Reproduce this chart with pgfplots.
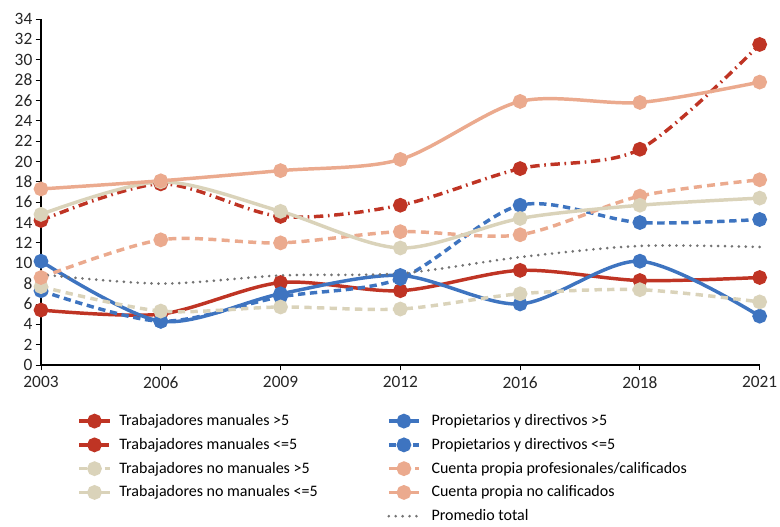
\documentclass[border=0pt]{standalone}
\usepackage{pgfplots}
\pgfplotsset{compat=1.18}
\usepackage{fontspec}
\setmainfont{Carlito}
\definecolor{cred}{RGB}{191,52,36}
\definecolor{cblue}{RGB}{62,116,192}
\definecolor{cbeige}{RGB}{218,211,186}
\definecolor{csalmon}{RGB}{235,170,142}
\definecolor{cgray}{RGB}{115,115,115}
\begin{document}
\begin{tikzpicture}
\useasboundingbox (-30.75pt,-120.75pt) rectangle (554.25pt,273.75pt);
\begin{axis}[
  scale only axis, width=539pt, height=259.5pt,
  xmin=0, xmax=6, ymin=0, ymax=34,
  xtick={0,...,6}, xticklabels={2003,2006,2009,2012,2016,2018,2021},
  ytick={0,2,...,34},
  axis x line*=bottom, axis y line*=left,
  tick align=outside, major tick length=4pt,
  tick style={black, line width=0.6pt},
  axis line style={black, line width=0.8pt},
  /pgf/number format/assume math mode=true,
  ticklabel style={font=\fontsize{13}{15}\selectfont, text=black!85},
  xticklabel style={yshift=-1pt},
  yticklabel style={xshift=1pt},
  clip=false,
  every axis plot/.append style={smooth, line width=2.6pt, mark=*, mark size=4.2pt},
  legend columns=2,
  legend cell align=left,
  legend style={at={(0.045,-0.127)}, anchor=north west, draw=none, fill=none,
     font=\fontsize{12}{14}\selectfont, row sep=4.0pt,
     /tikz/column 2/.style={column sep=50pt},
     /tikz/column 1/.style={column sep=4pt},
     /tikz/column 3/.style={column sep=6pt}},
  legend image code/.code={\draw[mark repeat=2,mark phase=2] plot coordinates {(0cm,0cm) (0.4cm,0cm) (0.8cm,0cm)};},
]
% Trabajadores manuales >5
\addplot[color=cred, mark options={solid, fill=cred}] coordinates {(0,5.4) (1,5.0) (2,8.1) (3,7.3) (4,9.3) (5,8.3) (6,8.6)};
\addlegendentry{Trabajadores manuales >5}
% Propietarios >5
\addplot[color=cblue, mark options={solid, fill=cblue}] coordinates {(0,10.2) (1,4.3) (2,7.0) (3,8.8) (4,6.0) (5,10.2) (6,4.8)};
\addlegendentry{Propietarios y directivos >5}
% Trabajadores manuales <=5
\addplot[color=cred, mark options={solid, fill=cred}, dash pattern=on 7pt off 3.5pt on 1.2pt off 3.5pt] coordinates {(0,14.2) (1,17.8) (2,14.6) (3,15.7) (4,19.3) (5,21.2) (6,31.5)};
\addlegendentry{Trabajadores manuales <=5}
% Propietarios <=5
\addplot[color=cblue, mark options={solid, fill=cblue}, dash pattern=on 5.5pt off 3.5pt] coordinates {(0,7.3) (1,4.3) (2,6.7) (3,8.5) (4,15.7) (5,14.0) (6,14.3)};
\addlegendentry{Propietarios y directivos <=5}
% Trabajadores no manuales >5
\addplot[color=cbeige, mark options={solid, fill=cbeige}, dash pattern=on 5.5pt off 4pt] coordinates {(0,7.7) (1,5.3) (2,5.7) (3,5.5) (4,7.0) (5,7.4) (6,6.2)};
\addlegendentry{Trabajadores no manuales >5}
% Cuenta propia profesionales
\addplot[color=csalmon, mark options={solid, fill=csalmon}, dash pattern=on 6pt off 4pt] coordinates {(0,8.6) (1,12.3) (2,12.0) (3,13.1) (4,12.8) (5,16.6) (6,18.2)};
\addlegendentry{Cuenta propia profesionales/calificados}
% Trabajadores no manuales <=5
\addplot[color=cbeige, mark options={solid, fill=cbeige}] coordinates {(0,14.8) (1,18.0) (2,15.1) (3,11.5) (4,14.4) (5,15.7) (6,16.4)};
\addlegendentry{Trabajadores no manuales <=5}
% Cuenta propia no calificados
\addplot[color=csalmon, mark options={solid, fill=csalmon}] coordinates {(0,17.3) (1,18.1) (2,19.1) (3,20.2) (4,25.9) (5,25.8) (6,27.8)};
\addlegendentry{Cuenta propia no calificados}
\addlegendimage{empty legend}
\addlegendentry{}
% Promedio total
\addplot[color=cgray, mark=none, line width=2.2pt, line cap=round, dash pattern=on 0pt off 5.2pt] coordinates {(0,8.9) (1,8.0) (2,8.8) (3,9.0) (4,10.6) (5,11.7) (6,11.6)};
\addlegendentry{Promedio total}
\end{axis}
\end{tikzpicture}
\end{document}
